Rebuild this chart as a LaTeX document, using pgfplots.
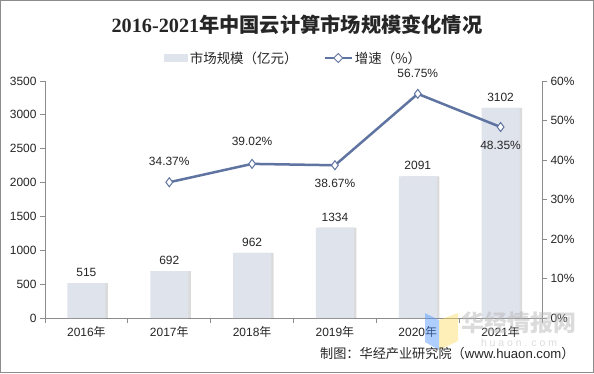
\documentclass[border=0pt]{standalone}
\usepackage{pgfplots}
\pgfplotsset{compat=1.18}
\usepackage{pgfplotstable}
\usepackage{fontspec}
\setmainfont{Liberation Sans}
\newfontfamily\cjk{Noto Sans CJK SC}
\newfontfamily\serif{Liberation Serif}
\definecolor{barc}{HTML}{DFE3EC}
\definecolor{linec}{HTML}{5F74A0}
\definecolor{axc}{HTML}{8C8C8C}
\definecolor{txt}{HTML}{262626}
\pgfplotsset{/pgf/number format/1000 sep={}}

\pgfplotstableread{
x y
0 515
1 692
2 962
3 1334
4 2091
5 3102
}\bars
\pgfplotstableread{
x y dy
1 34.37 21
2 39.02 22
3 38.67 -18
4 56.75 20
5 48.35 -18
}\growth

\begin{document}
\begin{tikzpicture}[x=1bp,y=1bp]
\useasboundingbox (0,0) rectangle (594,373);
\fill[white] (0,0) rectangle (594,373);
\draw[axc,line width=1bp] (0.5,0.5) rectangle (593.5,372.5);
\node[font=\fontsize{20.3}{22}\selectfont\bfseries, text=txt] at (297,348) {{\serif 2016-2021}{\cjk 年中国云计算市场规模变化情况}};

\begin{axis}[
  at={(45bp,55bp)}, anchor=south west, scale only axis, width=497bp, height=237bp,
  xmin=-0.5, xmax=5.5, ymin=0, ymax=3500,
  axis x line*=bottom, axis y line*=left,
  axis line style={-, axc, line width=0.8bp},
  xtick={0,...,5},
  xticklabels={2016{\cjk 年},2017{\cjk 年},2018{\cjk 年},2019{\cjk 年},2020{\cjk 年},2021{\cjk 年}},
  major x tick style={draw=none},
  minor xtick={-0.5,0.5,...,5.5},
  ytick={0,500,...,3500},
  scaled y ticks=false,
  tick align=outside, major tick length=5bp, minor tick length=5bp,
  tick style={axc, line width=0.8bp},
  ticklabel style={font=\fontsize{12}{14}\selectfont, text=txt},
  /pgf/number format/assume math mode=true,
  legend style={at={(0.5,1)}, anchor=center, yshift=23bp, draw=none, fill=none,
    font=\fontsize{13.5}{15}\selectfont, text=txt,
    /tikz/every even column/.append style={column sep=24bp}},
  legend columns=2,
  clip=false,
]
\addplot[ybar, bar width=38bp, bar shift=2.5bp, fill=black, fill opacity=0.14, draw=none, forget plot] table[x=x,y=y]{\bars};
\addplot[ybar, bar width=38bp, bar shift=0bp, fill=barc, draw=none,
  legend image code/.code={\fill[barc] (0bp,-3.5bp) rectangle (24bp,3.5bp);},
  nodes near coords,
  every node near coord/.append style={font=\fontsize{12}{14}\selectfont, text=txt, yshift=3bp}]
  table[x=x,y=y]{\bars};
\addlegendentry{{\cjk 市场规模（亿元）}}
\addlegendimage{linec,
  legend image code/.code={\draw[linec, line width=2.5bp] (0bp,0bp) -- (27bp,0bp);
    \draw[linec, fill=white, line width=1bp] (13.5bp,4.5bp) -- (18bp,0bp) -- (13.5bp,-4.5bp) -- (9bp,0bp) -- cycle;}}
\addlegendentry{{\cjk 增速（\%）}}
\end{axis}

\begin{axis}[
  at={(45bp,55bp)}, anchor=south west, scale only axis, width=497bp, height=237bp,
  xmin=-0.5, xmax=5.5, ymin=0, ymax=60,
  axis x line=none, axis y line*=right,
  axis line style={-, axc, line width=0.8bp},
  ytick={0,10,...,60},
  yticklabel={\pgfmathprintnumber{\tick}\%},
  tick align=outside, major tick length=5bp,
  tick style={axc, line width=0.8bp},
  ticklabel style={font=\fontsize{12}{14}\selectfont, text=txt},
  /pgf/number format/assume math mode=true,
  clip=false,
]
\addplot[linec, line width=2.5bp, mark=diamond*, mark size=4.5bp,
  mark options={fill=white, draw=linec, line width=1bp},
  visualization depends on={\thisrow{dy} \as \dy},
  nodes near coords={\pgfmathprintnumber[fixed,fixed zerofill,precision=2]{\pgfplotspointmeta}\%},
  every node near coord/.append style={anchor=center, yshift={\dy*1bp}, font=\fontsize{12}{14}\selectfont, text=txt}]
  table[x=x,y=y]{\growth};
\end{axis}

% watermark
\fill[fill=blue!60!cyan!70, opacity=0.45] (425,60) -- (439,53) -- (439,23) -- (425,31) -- cycle;
\fill[fill=yellow!60!orange!60, opacity=0.45] (439,53) -- (458,60) -- (458,32) -- (439,23) -- cycle;
\node[font=\cjk\bfseries\fontsize{23}{24}\selectfont, text=gray!55, opacity=0.5] at (519,50) {华经情报网};
\node[font=\fontsize{10.5}{12}\selectfont, text=gray!45, opacity=0.6] at (519,30) {h u a o n . c o m};

\node[anchor=east, font=\fontsize{13.2}{15}\selectfont, text=txt] at (578,20) {{\cjk 制图：华经产业研究院（}www.huaon.com{\cjk ）}};
\end{tikzpicture}
\end{document}
